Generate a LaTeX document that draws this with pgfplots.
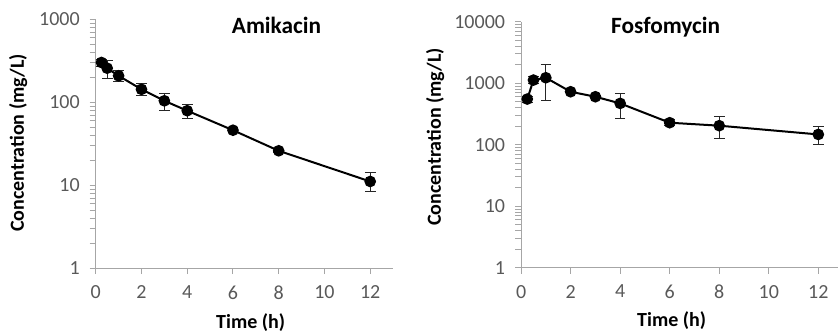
\documentclass[border=0pt]{standalone}
\usepackage{fontspec}
\setmainfont{Carlito}
\usepackage{pgfplots}
\pgfplotsset{compat=1.18}
\definecolor{tickgray}{HTML}{595959}
\definecolor{axgray}{HTML}{A6A6A6}
\begin{document}
\begin{tikzpicture}
\path[use as bounding box] (0,0) rectangle (628.5pt,250.5pt);
\begin{axis}[
  scale only axis,
  ymode=log,
  axis lines*=left,
  axis line style={axgray, line width=0.8pt},
  tick style={axgray, line width=0.7pt},
  tick align=outside,
  major tick length=4.5pt,
  minor tick length=4.5pt,
  xmin=0, xmax=13,
  xtick={0,2,4,6,8,10,12},
  ticklabel style={font=\fontsize{15}{17}\selectfont, text=tickgray},
  xticklabel style={yshift=-5pt},
  yticklabel style={xshift=-4pt},
  /pgf/number format/assume math mode=true,
  label style={font=\bfseries\fontsize{15}{17}\selectfont},
  title style={font=\bfseries\fontsize{17.5}{20}\selectfont, anchor=center, at={(axis description cs:0.608,0.941)}},
  clip=false,
  at={(71.8pt,49.3pt)}, anchor=origin,
  width=223pt, height=186.8pt,
  ymin=1, ymax=1000,
  ytick={1,10,100,1000}, yticklabels={1,10,100,1000},
  minor ytick={2,3,4,5,6,7,8,9,20,30,40,50,60,70,80,90,200,300,400,500,600,700,800,900},
  title={Amikacin},
  xlabel={Time (h)},
  ylabel={Concentration (mg/L)},
  xlabel style={anchor=center, at={(axis description cs:0.521,-0.22)}},
  ylabel style={anchor=center, at={(axis description cs:-0.261,0.503)}},
]
\addplot[black, line width=1.5pt, mark=*, mark size=3.6pt, mark options={solid},
  error bars/.cd, y dir=both, y explicit,
  error bar style={line width=0.75pt, black!85},
  error mark options={rotate=90, mark size=4pt, line width=0.75pt, black!85}]
 coordinates {
 (0.25,301) += (0,30) -= (0,28)
 (0.5,257) += (0,58) -= (0,66)
 (1,208) += (0,31) -= (0,29)
 (2,143) += (0,26) -= (0,21)
 (3,104) += (0,24) -= (0,25)
 (4,79) += (0,14) -= (0,15)
 (6,46) += (0,4) -= (0,3)
 (8,26) += (0,1) -= (0,1)
 (12,11.1) += (0,3.1) -= (0,2.8)
};
\end{axis}
\begin{axis}[
  scale only axis,
  ymode=log,
  axis lines*=left,
  axis line style={axgray, line width=0.8pt},
  tick style={axgray, line width=0.7pt},
  tick align=outside,
  major tick length=4.5pt,
  minor tick length=4.5pt,
  xmin=0, xmax=12.8,
  xtick={0,2,4,6,8,10,12},
  ticklabel style={font=\fontsize{15}{17}\selectfont, text=tickgray},
  xticklabel style={yshift=-5pt},
  yticklabel style={xshift=-4pt},
  /pgf/number format/assume math mode=true,
  label style={font=\bfseries\fontsize{15}{17}\selectfont},
  title style={font=\bfseries\fontsize{17.5}{20}\selectfont, anchor=center, at={(axis description cs:0.456,0.946)}},
  clip=false,
  at={(390.8pt,49.7pt)}, anchor=origin,
  width=237.8pt, height=184.5pt,
  ymin=1, ymax=10000,
  ytick={1,10,100,1000,10000}, yticklabels={1,10,100,1000,10000},
  minor ytick={2,3,4,5,6,7,8,9,20,30,40,50,60,70,80,90,200,300,400,500,600,700,800,900,2000,3000,4000,5000,6000,7000,8000,9000},
  title={Fosfomycin},
  xlabel={Time (h)},
  ylabel={Concentration (mg/L)},
  xlabel style={anchor=center, at={(axis description cs:0.475,-0.213)}},
  ylabel style={anchor=center, at={(axis description cs:-0.271,0.532)}},
]
\addplot[black, line width=1.5pt, mark=*, mark size=3.6pt, mark options={solid},
  error bars/.cd, y dir=both, y explicit,
  error bar style={line width=0.75pt, black!85},
  error mark options={rotate=90, mark size=4pt, line width=0.75pt, black!85}]
 coordinates {
 (0.25,553) += (0,50) -= (0,65)
 (0.5,1125) += (0,183) -= (0,131)
 (1,1228) += (0,796) -= (0,709)
 (2,727) += (0,20) -= (0,20)
 (3,603) += (0,20) -= (0,20)
 (4,470) += (0,205) -= (0,202)
 (6,228) += (0,30) -= (0,26)
 (8,204) += (0,81) -= (0,76)
 (12,147) += (0,49) -= (0,47)
};
\end{axis}
\end{tikzpicture}
\end{document}
